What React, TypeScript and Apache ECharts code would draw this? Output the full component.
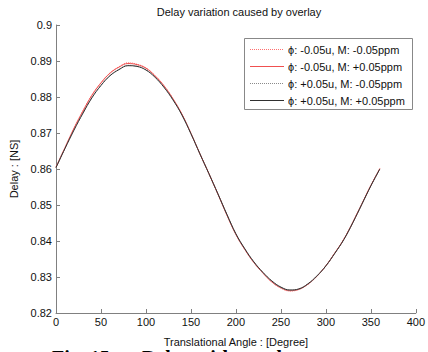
import React, { useEffect, useRef } from "react";
import * as echarts from "echarts";

const angles = [0, 10, 20, 30, 40, 50, 60, 70, 80, 90, 100, 110, 120, 130, 140, 150, 160, 170, 180, 190, 200, 210, 220, 230, 240, 250, 260, 270, 280, 290, 300, 310, 320, 330, 340, 350, 360];

const seriesNames = [
  "ϕ: -0.05u, M: -0.05ppm",
  "ϕ: -0.05u, M: +0.05ppm",
  "ϕ: +0.05u, M: -0.05ppm",
  "ϕ: +0.05u, M: +0.05ppm",
];

const delayA = [0.8606, 0.8660, 0.8714, 0.8762, 0.8806, 0.8840, 0.8867, 0.8884, 0.8895, 0.8891, 0.8881, 0.8860, 0.8832, 0.8796, 0.8753, 0.8700, 0.8643, 0.8588, 0.8531, 0.8472, 0.8418, 0.8376, 0.8340, 0.8311, 0.8286, 0.8269, 0.8261, 0.8265, 0.8279, 0.8302, 0.8331, 0.8367, 0.8405, 0.8453, 0.8504, 0.8555, 0.8602];
const delayB = [0.8605, 0.8659, 0.8713, 0.8761, 0.8805, 0.8839, 0.8866, 0.8883, 0.8893, 0.8890, 0.8880, 0.8859, 0.8831, 0.8795, 0.8752, 0.8699, 0.8642, 0.8587, 0.8530, 0.8472, 0.8418, 0.8376, 0.8340, 0.8311, 0.8286, 0.8270, 0.8262, 0.8266, 0.8280, 0.8302, 0.8331, 0.8367, 0.8405, 0.8452, 0.8503, 0.8554, 0.8601];
const delayC = [0.8604, 0.8657, 0.8709, 0.8756, 0.8799, 0.8833, 0.8860, 0.8877, 0.8888, 0.8886, 0.8876, 0.8856, 0.8828, 0.8793, 0.8750, 0.8698, 0.8642, 0.8587, 0.8531, 0.8473, 0.8419, 0.8377, 0.8341, 0.8312, 0.8288, 0.8271, 0.8263, 0.8266, 0.8280, 0.8302, 0.8330, 0.8366, 0.8404, 0.8451, 0.8502, 0.8553, 0.8600];
const delayD = [0.8604, 0.8657, 0.8708, 0.8755, 0.8798, 0.8832, 0.8859, 0.8876, 0.8887, 0.8885, 0.8875, 0.8855, 0.8827, 0.8792, 0.8750, 0.8698, 0.8642, 0.8587, 0.8531, 0.8474, 0.8420, 0.8378, 0.8342, 0.8313, 0.8289, 0.8272, 0.8264, 0.8267, 0.8281, 0.8303, 0.8331, 0.8366, 0.8404, 0.8451, 0.8502, 0.8553, 0.8600];

const xTicks = { min: 0, max: 400, interval: 50 };
const yTicks = { min: 0.82, max: 0.9, interval: 0.01 };

const titleText = "Delay variation caused by overlay";
const xLabel = "Translational Angle : [Degree]";
const yLabel = "Delay : [NS]";
const captionFig = "Fig. 15";
const captionText = "Delay with overlay near center";

export default function App() {
  const ref = useRef<HTMLDivElement>(null);
  useEffect(() => {
    if (!ref.current) return;
    const chart = echarts.init(ref.current, null, { renderer: "svg" });
    const font = "Liberation Sans, Arial, sans-serif";
    const pair = (ys: number[]) => angles.map((a, i) => [a, ys[i]]);
    const styles = [
      { color: "#ff6f6f", dash: [1, 1] as number[] | null, type: "dotted" },
      { color: "#f05050", dash: null, type: "solid" },
      { color: "#8a8a8a", dash: [1, 1] as number[] | null, type: "dotted" },
      { color: "#303030", dash: null, type: "solid" },
    ];
    const datas = [delayA, delayB, delayC, delayD];

    const legendX = 244, legendY = 38, legendW = 168, legendH = 71;
    const rowYs = [49, 66, 83, 100];
    const legendItems: any[] = [
      {
        type: "rect",
        shape: { x: legendX + 0.5, y: legendY + 0.5, width: legendW, height: legendH },
        style: { fill: "#ffffff", stroke: "#888888", lineWidth: 1 },
        z: 10,
      },
    ];
    seriesNames.forEach((name, i) => {
      legendItems.push({
        type: "line",
        shape: { x1: 250, y1: rowYs[i] + 0.5, x2: 284, y2: rowYs[i] + 0.5 },
        style: { stroke: styles[i].color, lineWidth: 1, lineDash: styles[i].dash || undefined },
        z: 11,
      });
      legendItems.push({
        type: "text",
        x: 288,
        y: rowYs[i] + 1,
        style: {
          text: name,
          font: "11px 'Liberation Sans', Arial, sans-serif",
          fill: "#111",
          textVerticalAlign: "middle",
          verticalAlign: "middle",
        },
        z: 11,
      });
    });

    chart.setOption({
      animation: false,
      backgroundColor: "#ffffff",
      title: {
        text: titleText,
        left: 234,
        textAlign: "center",
        top: 1,
        textStyle: { fontFamily: font, fontSize: 11, fontWeight: "normal", color: "#111" },
      },
      grid: { left: 52, right: 9, top: 25, bottom: 35, containLabel: false },
      xAxis: {
        type: "value",
        min: xTicks.min,
        max: xTicks.max,
        interval: xTicks.interval,
        name: xLabel,
        nameLocation: "middle",
        nameGap: 23,
        nameTextStyle: { fontFamily: font, fontSize: 11, color: "#111" },
        axisLine: { lineStyle: { color: "#808080", width: 1 } },
        axisTick: { inside: true, length: 4, lineStyle: { color: "#808080" } },
        axisLabel: { fontFamily: font, fontSize: 11, color: "#111", margin: 3 },
        splitLine: { show: false },
      },
      yAxis: {
        type: "value",
        min: yTicks.min,
        max: yTicks.max,
        interval: yTicks.interval,
        name: yLabel,
        nameLocation: "middle",
        nameGap: 37,
        nameTextStyle: { fontFamily: font, fontSize: 11, color: "#111" },
        axisLine: { show: true, lineStyle: { color: "#808080", width: 1 } },
        axisTick: { show: true, inside: true, length: 4, lineStyle: { color: "#808080" } },
        axisLabel: {
          fontFamily: font,
          fontSize: 11,
          color: "#111",
          margin: 4,
          formatter: (v: number) => String(+v.toFixed(2)),
        },
        splitLine: { show: false },
      },
      series: datas.map((d, i) => ({
        name: seriesNames[i],
        type: "line",
        data: pair(d),
        smooth: 0.4,
        symbol: "none",
        lineStyle: { color: styles[i].color, width: 1, type: styles[i].type },
        itemStyle: { color: styles[i].color },
        z: 2 + i,
      })),
      graphic: [
        ...legendItems,
        {
          type: "text",
          x: 52,
          y: 348,
          style: {
            text: captionFig,
            font: "bold 20px 'Liberation Serif', 'Times New Roman', serif",
            fill: "#000",
          },
        },
        {
          type: "text",
          x: 142,
          y: 348,
          style: {
            text: captionText,
            font: "bold 20px 'Liberation Serif', 'Times New Roman', serif",
            fill: "#000",
          },
        },
      ],
    });
    return () => chart.dispose();
  }, []);
  return (
    <div
      ref={ref}
      style={{ position: "fixed", left: 0, top: 0, width: 428, height: 352 }}
    />
  );
}
